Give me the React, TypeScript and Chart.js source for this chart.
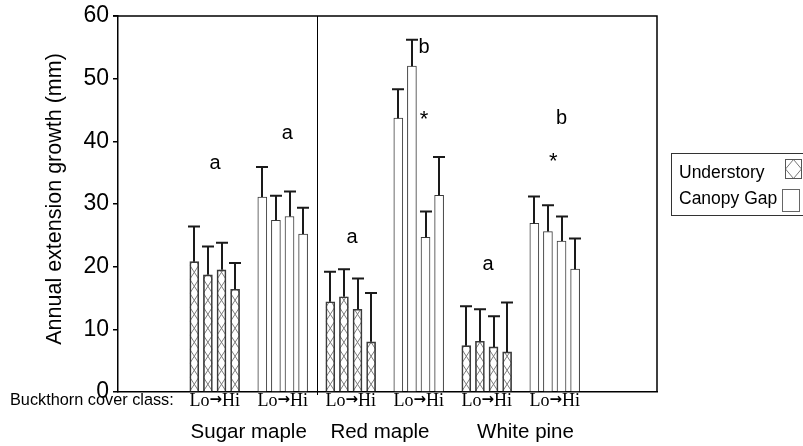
import React, { useEffect, useRef } from 'react';
import { Chart, registerables } from 'chart.js';

Chart.register(...registerables);

// ---- data ----
const species = ['Sugar maple', 'Red maple', 'White pine'];
const coverClassTitle = 'Buckthorn cover class:';
const coverLo = 'Lo';
const coverArrow = '\u2192';
const coverHi = 'Hi';
const legendLabels = ['Understory', 'Canopy Gap'];
const yTitle = 'Annual extension growth (mm)';
const yTicks = [0, 10, 20, 30, 40, 50, 60];

// 4 buckthorn cover classes (Lo -> Hi) per species
const understoryMeans = [20.8, 18.7, 19.5, 16.4, 14.4, 15.2, 13.2, 8.0, 7.4, 8.1, 7.2, 6.4];
const understorySE = [5.6, 4.5, 4.3, 4.2, 4.8, 4.4, 4.9, 7.8, 6.3, 5.1, 4.9, 7.9];
const canopyMeans = [31.1, 27.4, 28.0, 25.2, 43.7, 52.0, 24.7, 31.4, 26.9, 25.6, 24.1, 19.6];
const canopySE = [4.8, 3.9, 4.0, 4.2, 4.6, 4.2, 4.1, 6.1, 4.3, 4.2, 3.9, 4.9];

// significance annotations: [text, slot, value]
const annotations: [string, number, number][] = [
  ['a', 1.52, 36.5],
  ['a', 6.84, 41.3],
  ['a', 11.6, 24.7],
  ['b', 16.9, 55.0],
  ['*', 16.9, 44.0],
  ['a', 21.6, 20.3],
  ['b', 27.0, 43.7],
  ['*', 26.4, 37.3],
];

const CLASSES = 4;
const slotOf = (s: number, cond: number, b: number) => s * 10 + cond * 5 + b;

const buildPoints = (means: number[], cond: number) =>
  means.map((v, i) => ({ x: slotOf(Math.floor(i / CLASSES), cond, i % CLASSES), y: v }));

const SANS = '"Liberation Sans", Arial, sans-serif';
const SERIF = '"Liberation Serif", "Times New Roman", serif';
const ARROWF = '"DejaVu Sans", sans-serif';

function drawHatch(ctx: CanvasRenderingContext2D, left: number, top: number, right: number, bottom: number) {
  const w = right - left;
  const period = 14;
  ctx.save();
  ctx.beginPath();
  ctx.rect(left, top, w, bottom - top);
  ctx.clip();
  ctx.fillStyle = '#fff';
  ctx.fillRect(left, top, w, bottom - top);
  ctx.strokeStyle = '#7c7c7c';
  ctx.lineWidth = 1;
  ctx.beginPath();
  for (let y = bottom; y > top - period; y -= period) {
    ctx.moveTo(left, y);
    ctx.lineTo(right, y - period);
    ctx.moveTo(right, y);
    ctx.lineTo(left, y - period);
  }
  ctx.stroke();
  ctx.restore();
}

const customPlugin = {
  id: 'custom',
  beforeDatasetsDraw(chart: any) {
    const ctx = chart.ctx as CanvasRenderingContext2D;
    const meta = chart.getDatasetMeta(0);
    meta.data.forEach((bar: any) => {
      const half = bar.width / 2;
      drawHatch(ctx, bar.x - half, Math.min(bar.y, bar.base), bar.x + half, Math.max(bar.y, bar.base));
    });
  },
  afterDatasetsDraw(chart: any) {
    const ctx = chart.ctx as CanvasRenderingContext2D;
    const yScale = chart.scales.y;
    const errs = [understorySE, canopySE];
    const means = [understoryMeans, canopyMeans];
    ctx.save();
    ctx.strokeStyle = '#1a1a1a';
    ctx.lineWidth = 2;
    [0, 1].forEach((d) => {
      const meta = chart.getDatasetMeta(d);
      meta.data.forEach((bar: any, i: number) => {
        const yTop = yScale.getPixelForValue(means[d][i] + errs[d][i]);
        const yBar = yScale.getPixelForValue(means[d][i]);
        const x = Math.round(bar.x);
        ctx.beginPath();
        ctx.moveTo(x, yBar);
        ctx.lineTo(x, yTop);
        ctx.moveTo(x - 6, yTop);
        ctx.lineTo(x + 6, yTop);
        ctx.stroke();
      });
    });
    ctx.restore();
  },
  afterDraw(chart: any) {
    const ctx = chart.ctx as CanvasRenderingContext2D;
    const { left, right, top, bottom } = chart.chartArea;
    const xs = chart.scales.x;
    const ys = chart.scales.y;
    ctx.save();
    // frame: top and right
    ctx.strokeStyle = '#000';
    ctx.lineWidth = 1.5;
    ctx.beginPath();
    ctx.moveTo(left - 5, top);
    ctx.lineTo(right, top);
    ctx.lineTo(right, bottom);
    ctx.stroke();
    // divider between sugar maple and red maple
    const dx = Math.round(xs.getPixelForValue(9)) + 0.5;
    ctx.lineWidth = 1;
    ctx.beginPath();
    ctx.moveTo(dx, top);
    ctx.lineTo(dx, bottom + 3);
    ctx.stroke();

    // annotations
    ctx.fillStyle = '#000';
    ctx.textAlign = 'center';
    ctx.textBaseline = 'middle';
    annotations.forEach(([t, sx, v]) => {
      ctx.font = t === '*' ? `22px ${SANS}` : `20px ${SANS}`;
      ctx.fillText(t, xs.getPixelForValue(sx), ys.getPixelForValue(v) + (t === '*' ? 4 : 0));
    });

    // cover class labels
    ctx.font = `16.3px ${SANS}`;
    ctx.textAlign = 'left';
    ctx.fillText(coverClassTitle, 10, 401);
    species.forEach((_, s) => {
      [0, 1].forEach((c) => {
        const cx = xs.getPixelForValue(slotOf(s, c, 1.5));
        ctx.font = `18px ${SERIF}`;
        const wLo = ctx.measureText(coverLo).width;
        const wHi = ctx.measureText(coverHi).width;
        ctx.font = `bold 15px ${ARROWF}`;
        const wAr = ctx.measureText(coverArrow).width;
        const total = wLo + wAr + wHi;
        let x = cx - total / 2;
        ctx.textAlign = 'left';
        ctx.font = `18px ${SERIF}`;
        ctx.fillText(coverLo, x, 401);
        x += wLo;
        ctx.font = `bold 15px ${ARROWF}`;
        ctx.fillText(coverArrow, x, 400);
        x += wAr;
        ctx.font = `18px ${SERIF}`;
        ctx.fillText(coverHi, x, 401);
      });
    });
    // species labels
    ctx.textAlign = 'center';
    ctx.font = `20.5px ${SANS}`;
    const nudge = [0, -0.35, 0.35];
    species.forEach((name, s) => {
      ctx.fillText(name, xs.getPixelForValue(slotOf(s, 0, 4) + nudge[s]), 432);
    });

    // y title
    ctx.save();
    ctx.translate(55, (top + bottom) / 2 - 5);
    ctx.rotate(-Math.PI / 2);
    ctx.font = `21.5px ${SANS}`;
    ctx.fillText(yTitle, 0, 0);
    ctx.restore();

    // legend
    ctx.strokeStyle = '#333';
    ctx.lineWidth = 1;
    ctx.strokeRect(671.5, 153.5, 150, 62);
    ctx.font = `17.5px ${SANS}`;
    ctx.textAlign = 'left';
    ctx.fillStyle = '#000';
    ctx.fillText(legendLabels[0], 679, 173);
    ctx.fillText(legendLabels[1], 679, 199);
    // understory swatch
    const sx = 785.5, sy = 159.5, sw = 16, sh = 19;
    ctx.fillStyle = '#fff';
    ctx.fillRect(sx, sy, sw, sh);
    ctx.strokeStyle = '#777';
    ctx.beginPath();
    ctx.moveTo(sx + sw / 2, sy);
    ctx.lineTo(sx + sw, sy + sh / 2);
    ctx.lineTo(sx + sw / 2, sy + sh);
    ctx.lineTo(sx, sy + sh / 2);
    ctx.closePath();
    ctx.stroke();
    ctx.strokeStyle = '#555';
    ctx.strokeRect(sx, sy, sw, sh);
    // canopy swatch
    ctx.strokeStyle = '#666';
    ctx.strokeRect(782.5, 189.5, 17, 22);
    ctx.restore();
  },
};

export default function App() {
  const ref = useRef<HTMLCanvasElement | null>(null);
  useEffect(() => {
    if (!ref.current) return;
    const chart = new Chart(ref.current, {
      type: 'bar',
      data: {
        datasets: [
          {
            label: legendLabels[0],
            data: buildPoints(understoryMeans, 0),
            backgroundColor: 'rgba(0,0,0,0)',
            borderColor: '#3a3a3a',
            borderWidth: 1,
            barThickness: 9,
            grouped: false,
          } as any,
          {
            label: legendLabels[1],
            data: buildPoints(canopyMeans, 1),
            backgroundColor: '#ffffff',
            borderColor: '#3a3a3a',
            borderWidth: 1,
            barThickness: 9,
            grouped: false,
          } as any,
        ],
      },
      options: {
        responsive: false,
        animation: false,
        events: [],
        layout: { padding: { top: 16, right: 146, bottom: 0, left: 0 } },
        plugins: { legend: { display: false }, tooltip: { enabled: false }, title: { display: false } },
        scales: {
          x: {
            type: 'linear',
            offset: false,
            min: -5.61,
            max: 34.02,
            ticks: { display: false },
            grid: { display: false, offset: false },
            border: { display: true, color: '#000', width: 1.5 },
            afterFit: (s: any) => { s.height = 54; },
          },
          y: {
            type: 'linear',
            min: 0,
            max: 60,
            afterBuildTicks: (s: any) => { s.ticks = yTicks.map((v) => ({ value: v })); },
            ticks: { color: '#000', font: { family: SANS, size: 23 }, padding: 4 },
            grid: { display: true, drawOnChartArea: false, drawTicks: true, tickLength: 5, color: '#000', lineWidth: 1.5 },
            border: { display: true, color: '#000', width: 1.5 },
            afterFit: (s: any) => { s.width = 118; s.paddingTop = 0; s.paddingBottom = 0; },
          },
        },
      } as any,
      plugins: [customPlugin],
    });
    return () => chart.destroy();
  }, []);
  return (
    <div style={{ position: 'absolute', left: 0, top: 0, width: 803, height: 446 }}>
      <canvas ref={ref} width={803} height={446} style={{ display: 'block' }} />
    </div>
  );
}
